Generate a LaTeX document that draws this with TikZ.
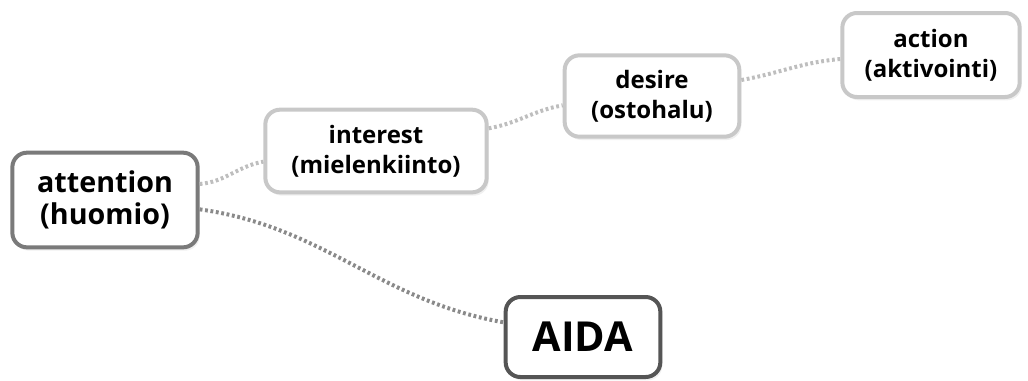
\documentclass[tikz,border=0pt]{standalone}
\usepackage{fontspec}
\setmainfont{Open Sans}
\usepackage{tikz}
\usetikzlibrary{shadows}
\definecolor{boxlight}{HTML}{C8C8C8}
\definecolor{boxmid}{HTML}{7A7A7A}
\definecolor{boxdark}{HTML}{555555}
\definecolor{linklight}{HTML}{BEBEBE}
\definecolor{linkdark}{HTML}{8A8A8A}

\begin{document}
\begin{tikzpicture}[
  x=0.75pt,y=-0.75pt,
  idea/.style={draw=boxlight,line width=3pt,rounded corners=11pt,fill=white,align=center,
    font=\bfseries\fontsize{18}{22.5}\selectfont,inner sep=0pt,
    drop shadow={opacity=0.12,shadow xshift=1.5pt,shadow yshift=-2.5pt}},
  root/.style={idea,draw=boxmid,font=\bfseries\fontsize{21.5}{24.5}\selectfont},
  main/.style={idea,draw=boxdark,font=\bfseries\fontsize{31}{34}\selectfont},
  link/.style={line width=3pt,dash pattern=on 2.1pt off 2pt,color=linklight},
  rootlink/.style={link,color=linkdark}
]
\useasboundingbox (0,0) rectangle (1028,380);
\node[root,minimum width=139pt,minimum height=71pt] (attention) at (105,200) {attention\\(huomio)};
\node[idea,minimum width=166pt,minimum height=62pt] (interest) at (376,151) {interest\\(mielenkiinto)};
\node[idea,minimum width=131pt,minimum height=61pt] (desire) at (652,96) {desire\\(ostohalu)};
\node[idea,minimum width=133pt,minimum height=63pt] (action) at (931,55) {action\\(aktivointi)};
\node[main,minimum width=116pt,minimum height=60pt] (aida) at (583,337) {AIDA};
% links between ideas
\draw[link] ([yshift=12pt]attention.east) to[out=5,in=190] ([yshift=-8pt]interest.west);
\draw[link] ([yshift=17pt]interest.east) to[out=10,in=190] ([yshift=-7pt]desire.west);
\draw[link] ([yshift=12pt]desire.east) to[out=10,in=185] ([yshift=-3pt]action.west);
\draw[rootlink] ([yshift=-7pt]attention.east) to[out=-8,in=170] ([yshift=11pt]aida.west);
\end{tikzpicture}
\end{document}
